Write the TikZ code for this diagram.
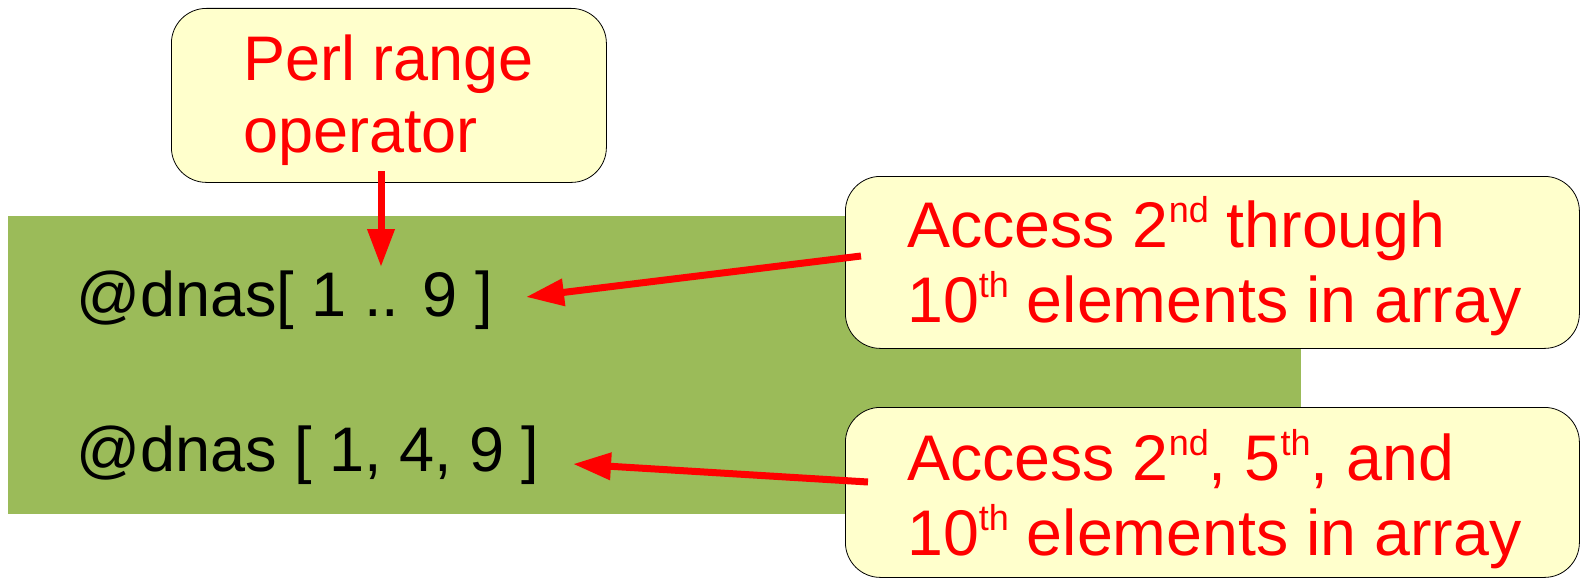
\documentclass[tikz,border=0pt]{standalone}
\usepackage{fontspec}
\setmainfont{Liberation Sans}
\usetikzlibrary{arrows.meta}
\definecolor{codebg}{HTML}{9BBB59}
\definecolor{notefill}{HTML}{FFFFCC}
\definecolor{notered}{HTML}{FF0000}
% ordinal suffix, raised and set smaller
\newcommand{\ordsup}[1]{\raisebox{25pt}{\fontsize{36}{36}\selectfont #1}}

\begin{document}
\begin{tikzpicture}[x=1pt,y=-1pt,
  note/.style={draw=black, line width=0.8pt, fill=notefill, rounded corners=35pt,
               inner sep=0pt, anchor=north west},
  notetext/.style={anchor=base west, inner sep=0pt, text=notered,
                   font=\fontsize{63}{72}\selectfont},
  widetext/.style={notetext, font=\fontsize{64.5}{72}\selectfont},
  codetext/.style={anchor=base west, inner sep=0pt, text=black,
                   font=\fontsize{63}{72}\selectfont},
  pointer/.style={draw=notered, line width=7pt,
                  -{Triangle[length=38pt,width=26pt]}}]

\useasboundingbox (0,0) rectangle (1581,578);

% code panel
\fill[codebg] (8,216) rectangle (1301,514);
\node[codetext] (slice) at (76,316) {@dnas[ 1 .. 9 ]};
\node[codetext] (list)  at (76,471) {@dnas [ 1, 4, 9 ]};

% callout boxes
\node[note, minimum width=435pt, minimum height=174pt] (range) at (171,8) {};
\node[note, minimum width=734pt, minimum height=172pt] (through) at (845,176) {};
\node[note, minimum width=734pt, minimum height=170pt] (picks) at (845,407) {};

\node[notetext] (range1) at (243,80)  {Perl range};
\node[notetext] (range2) at (243,152) {operator};

\node[widetext] (through1) at (907,247) {Access 2\ordsup{nd} through};
\node[widetext] (through2) at (907,322) {10\ordsup{th} elements in array};

\node[widetext] (picks1) at (907,480) {Access 2\ordsup{nd}, 5\ordsup{th}, and};
\node[widetext] (picks2) at (907,555) {10\ordsup{th} elements in array};

% arrow end points
\coordinate (rangefrom)   at (381,171);
\coordinate (rangeto)     at (381,267);
\coordinate (throughfrom) at (861,256);
\coordinate (throughto)   at (526,297);
\coordinate (picksfrom)   at (868,482);
\coordinate (picksto)     at (573,464);

\draw[pointer] (rangefrom) -- (rangeto);
\draw[pointer] (throughfrom) -- (throughto);
\draw[pointer] (picksfrom) -- (picksto);
\end{tikzpicture}
\end{document}
